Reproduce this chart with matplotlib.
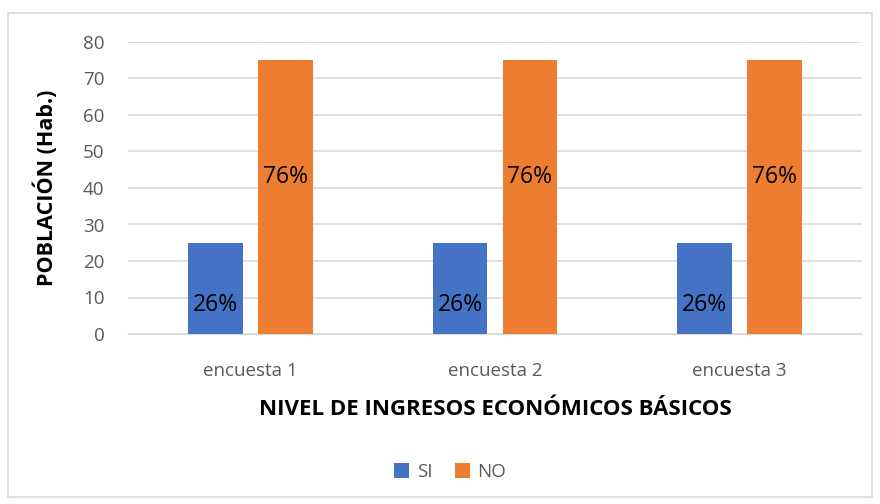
import matplotlib.pyplot as plt
import numpy as np
from matplotlib.patches import Rectangle

categorias = ['encuesta 1', 'encuesta 2', 'encuesta 3']
si = [25, 25, 25]
no = [75, 75, 75]
etiq_si = ['26%', '26%', '26%']
etiq_no = ['76%', '76%', '76%']
pos_etiq_si = [8, 8, 8]
pos_etiq_no = [43, 43, 43]

plt.rcParams['font.family'] = ['Open Sans', 'DejaVu Sans']

fig = plt.figure(figsize=(8.8, 5.04), dpi=100)
fig.patches.append(Rectangle((8/880, 7/504), 864/880, 484/504, transform=fig.transFigure,
                             fill=False, edgecolor='#d9d9d9', linewidth=1.2))
ax = fig.add_axes([128/880, 1 - 334/504, 734/880, 292/504])

x = np.arange(len(categorias))
w = 0.224
ax.bar(x - 0.143, si, w, color='#4472c4', label='SI', zorder=3)
ax.bar(x + 0.143, no, w, color='#ed7d31', label='NO', zorder=3)

for i in range(len(categorias)):
    ax.text(x[i] - 0.143, pos_etiq_si[i], etiq_si[i], ha='center', va='center', fontsize=16.5, color='black', zorder=4)
    ax.text(x[i] + 0.143, pos_etiq_no[i], etiq_no[i], ha='center', va='center', fontsize=16.5, color='black', zorder=4)

ax.set_xlim(-0.5, 2.5)
ax.set_ylim(0, 80)
ax.set_yticks(range(0, 81, 10))
ax.set_xticks(x)
ax.set_xticklabels(categorias)
ax.yaxis.grid(True, color='#d9d9d9', linewidth=1.2, zorder=0)
for s in ['top', 'right', 'left']:
    ax.spines[s].set_visible(False)
ax.spines['bottom'].set_color('#d9d9d9')
ax.tick_params(axis='both', length=0, labelsize=13.5, labelcolor='#595959')
ax.tick_params(axis='x', pad=20)
ax.tick_params(axis='y', pad=17)

ax.set_xlabel('NIVEL DE INGRESOS ECONÓMICOS BÁSICOS', fontsize=16, fontweight='bold', labelpad=14)
ax.set_ylabel('POBLACIÓN (Hab.)', fontsize=15.5, fontweight='bold', labelpad=18)

fig.legend(loc='center', bbox_to_anchor=(450/880, 1 - 472/504), ncol=2, frameon=False,
           fontsize=13.5, labelcolor='#595959', handlelength=0.8, handleheight=0.8,
           columnspacing=1.2, handletextpad=0.4)

plt.savefig('out.png', dpi=100)
